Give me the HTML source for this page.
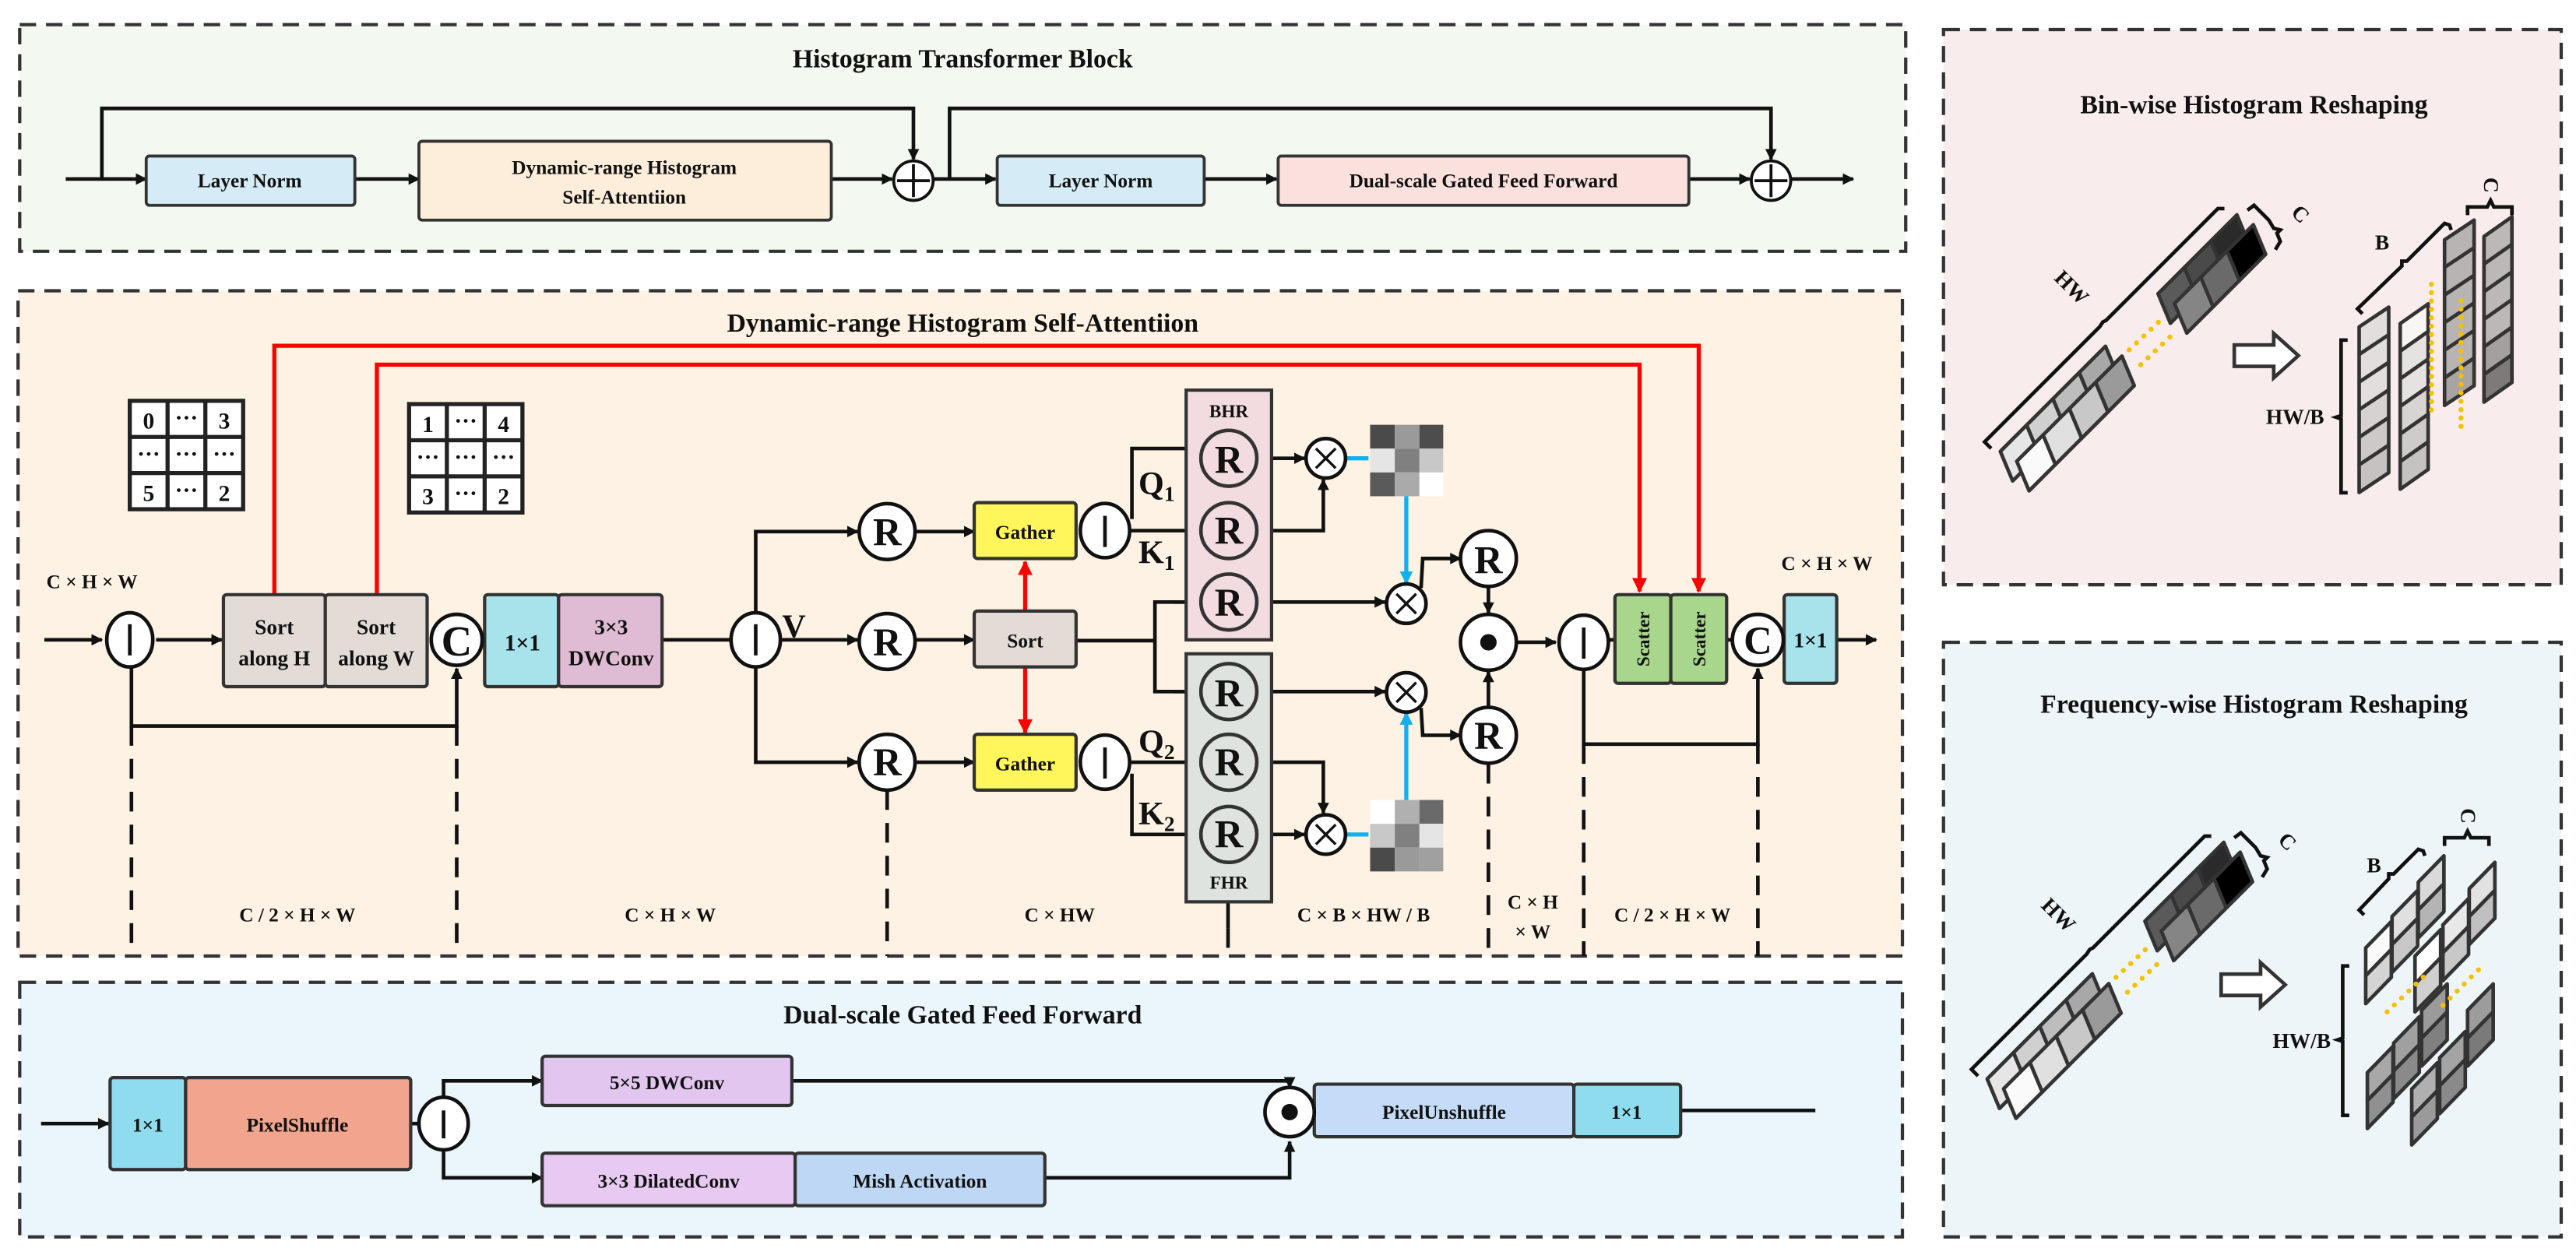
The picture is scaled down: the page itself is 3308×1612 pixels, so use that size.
<!DOCTYPE html>
<html><head><meta charset="utf-8"><style>
html,body{margin:0;padding:0;background:#fff;}
svg{display:block;}
text{font-family:"Liberation Serif",serif;font-weight:bold;fill:#111;}
</style></head><body>
<svg width="3308" height="1612" viewBox="0 0 1568 764" preserveAspectRatio="none" xmlns="http://www.w3.org/2000/svg">
<defs>
<marker id="a" viewBox="0 0 10 10" refX="9" refY="5" markerWidth="7" markerHeight="7" markerUnits="userSpaceOnUse" orient="auto"><path d="M0,0L10,5L0,10z" fill="#111"/></marker>
<marker id="r" viewBox="0 0 10 10" refX="9" refY="5" markerWidth="9" markerHeight="9" markerUnits="userSpaceOnUse" orient="auto"><path d="M0,0L10,5L0,10z" fill="#f00"/></marker>
<marker id="b" viewBox="0 0 10 10" refX="9" refY="5" markerWidth="8" markerHeight="8" markerUnits="userSpaceOnUse" orient="auto"><path d="M0,0L10,5L0,10z" fill="#14b0ee"/></marker>
</defs>

<g stroke="#333" stroke-width="2" stroke-dasharray="10 6">
<rect x="12" y="15" width="1148" height="138" fill="#f3f8f0"/>
<rect x="11" y="177" width="1147" height="405" fill="#fdf2e3"/>
<rect x="12" y="598" width="1146" height="155" fill="#eaf6fb"/>
<rect x="1183" y="18" width="376" height="338" fill="#f9ecec"/>
<rect x="1183" y="391" width="376" height="362" fill="#eef5f8"/>
</g>

<text x="586" y="41" font-size="16" text-anchor="middle">Histogram Transformer Block</text>
<g stroke="#111" stroke-width="2.2" fill="none">
<line x1="40" y1="109" x2="89" y2="109" marker-end="url(#a)"/>
<polyline points="62,109 62,66 556,66 556,97" marker-end="url(#a)"/>
<line x1="216" y1="109" x2="255" y2="109" marker-end="url(#a)"/>
<line x1="506" y1="109" x2="543" y2="109" marker-end="url(#a)"/>
<line x1="568" y1="109" x2="606" y2="109" marker-end="url(#a)"/>
<polyline points="578,109 578,66 1078,66 1078,97" marker-end="url(#a)"/>
<line x1="733" y1="109" x2="777" y2="109" marker-end="url(#a)"/>
<line x1="1028" y1="109" x2="1065" y2="109" marker-end="url(#a)"/>
<line x1="1090" y1="109" x2="1128" y2="109" marker-end="url(#a)"/>
</g>
<g stroke="#333" stroke-width="1.8">
<rect x="89" y="95" width="127" height="30" rx="2" fill="#d5ecf6"/>
<rect x="255" y="86" width="251" height="48" rx="2" fill="#fdeedb"/>
<rect x="607" y="95" width="126" height="30" rx="2" fill="#d5ecf6"/>
<rect x="778" y="95" width="250" height="30" rx="2" fill="#fbe1de"/>
</g>
<g font-size="12" text-anchor="middle">
<text x="152" y="114">Layer  Norm</text>
<text x="380" y="106">Dynamic-range  Histogram</text>
<text x="380" y="124">Self-Attentiion</text>
<text x="670" y="114">Layer  Norm</text>
<text x="903" y="114">Dual-scale Gated Feed Forward</text>
</g>
<g stroke="#111" stroke-width="1.8" fill="#fff">
<circle cx="556" cy="110" r="12"/><circle cx="1078" cy="110" r="12"/>
</g>
<g stroke="#111" stroke-width="1.8">
<line x1="546" y1="110" x2="566" y2="110"/><line x1="556" y1="100" x2="556" y2="120"/>
<line x1="1068" y1="110" x2="1088" y2="110"/><line x1="1078" y1="100" x2="1078" y2="120"/>
</g>

<text x="586" y="202" font-size="16" text-anchor="middle">Dynamic-range Histogram Self-Attentiion</text>

<g stroke="#f00" stroke-width="2.5" fill="none">
<polyline points="167,362 167,210.5 1034,210.5 1034,360" marker-end="url(#r)"/>
<polyline points="229.4,362 229.4,222 998,222 998,360" marker-end="url(#r)"/>
<line x1="624" y1="372" x2="624" y2="342" marker-end="url(#r)"/>
<line x1="624" y1="406" x2="624" y2="446" marker-end="url(#r)"/>
</g>

<g stroke="#222" stroke-width="2.5" fill="#fff">
<rect x="79" y="244" width="69" height="66"/>
<line x1="102" y1="244" x2="102" y2="310"/><line x1="125" y1="244" x2="125" y2="310"/>
<line x1="79" y1="266" x2="148" y2="266"/><line x1="79" y1="288" x2="148" y2="288"/>
<rect x="249" y="246" width="69" height="66"/>
<line x1="272" y1="246" x2="272" y2="312"/><line x1="295" y1="246" x2="295" y2="312"/>
<line x1="249" y1="268" x2="318" y2="268"/><line x1="249" y1="290" x2="318" y2="290"/>
</g>
<g font-size="14" text-anchor="middle" style="font-family:'Liberation Sans',sans-serif">
<text x="90.5" y="261">0</text><text x="113.5" y="259">···</text><text x="136.5" y="261">3</text>
<text x="90.5" y="281">···</text><text x="113.5" y="281">···</text><text x="136.5" y="281">···</text>
<text x="90.5" y="305">5</text><text x="113.5" y="303">···</text><text x="136.5" y="305">2</text>
<text x="260.5" y="263">1</text><text x="283.5" y="261">···</text><text x="306.5" y="263">4</text>
<text x="260.5" y="283">···</text><text x="283.5" y="283">···</text><text x="306.5" y="283">···</text>
<text x="260.5" y="307">3</text><text x="283.5" y="305">···</text><text x="306.5" y="307">2</text>
</g>

<g stroke="#111" stroke-width="2.2" fill="none">
<line x1="27" y1="389.5" x2="62" y2="389.5" marker-end="url(#a)"/>
<line x1="95" y1="389.5" x2="135" y2="389.5" marker-end="url(#a)"/>
<polyline points="80,405 80,442 278,442 278,407" marker-end="url(#a)"/>
<line x1="403" y1="389.5" x2="444" y2="389.5"/>
<polyline points="460,373 460,323.6 522,323.6" marker-end="url(#a)"/>
<line x1="476" y1="389.5" x2="522" y2="389.5" marker-end="url(#a)"/>
<polyline points="460,406 460,464 522,464" marker-end="url(#a)"/>
<line x1="557" y1="323.6" x2="593" y2="323.6" marker-end="url(#a)"/>
<line x1="557" y1="389.5" x2="593" y2="389.5" marker-end="url(#a)"/>
<line x1="557" y1="464" x2="593" y2="464" marker-end="url(#a)"/>
<polyline points="689,316 689,273 731,273" marker-end="url(#a)"/>
<line x1="688" y1="323" x2="731" y2="323" marker-end="url(#a)"/>
<line x1="688" y1="464" x2="731" y2="464" marker-end="url(#a)"/>
<polyline points="689,471 689,508 731,508" marker-end="url(#a)"/>
<line x1="655" y1="390" x2="703" y2="390"/>
<polyline points="731,366.5 703,366.5 703,421 731,421" />
<line x1="715" y1="366.5" x2="731" y2="366.5" marker-end="url(#a)"/>
<line x1="715" y1="421" x2="731" y2="421" marker-end="url(#a)"/>
<line x1="765" y1="279" x2="794" y2="279" marker-end="url(#a)"/>
<polyline points="765,323 805.5,323 805.5,292" marker-end="url(#a)"/>
<line x1="765" y1="366.5" x2="843" y2="366.5" marker-end="url(#a)"/>
<line x1="765" y1="421" x2="843" y2="421" marker-end="url(#a)"/>
<polyline points="765,464 805.5,464 805.5,495" marker-end="url(#a)"/>
<line x1="765" y1="508" x2="794" y2="508" marker-end="url(#a)"/>
<polyline points="865,358 866,340 889,340" marker-end="url(#a)"/>
<polyline points="865,431 866,447.6 889,447.6" marker-end="url(#a)"/>
<line x1="906" y1="357" x2="906" y2="373" marker-end="url(#a)"/>
<line x1="906" y1="430.6" x2="906" y2="409" marker-end="url(#a)"/>
<line x1="923" y1="391" x2="947" y2="391" marker-end="url(#a)"/>
<line x1="980" y1="389.5" x2="983" y2="389.5"/>
<line x1="1051" y1="389.5" x2="1054" y2="389.5"/>
<polyline points="964,407 964,453 1070,453 1070,407" marker-end="url(#a)"/>
<line x1="1118" y1="389.5" x2="1142" y2="389.5" marker-end="url(#a)"/>
<line x1="747.5" y1="549" x2="747.5" y2="565"/>
</g>
<g stroke="#111" stroke-width="2.2" stroke-dasharray="12 8" fill="none">
<line x1="80" y1="442" x2="80" y2="582"/>
<line x1="278" y1="442" x2="278" y2="582"/>
<line x1="540" y1="481" x2="540" y2="582"/>
<line x1="747.5" y1="565" x2="747.5" y2="582"/>
<line x1="906" y1="465" x2="906" y2="582"/>
<line x1="964" y1="453" x2="964" y2="582"/>
<line x1="1070" y1="453" x2="1070" y2="582"/>
</g>
<g stroke="#14b0ee" stroke-width="2.5" fill="none">
<line x1="820" y1="279" x2="833" y2="279"/>
<line x1="820" y1="508" x2="833" y2="508"/>
<line x1="856" y1="302" x2="856" y2="355" marker-end="url(#b)"/>
<line x1="856" y1="487" x2="856" y2="434" marker-end="url(#b)"/>
</g>

<g stroke="#333" stroke-width="2">
<rect x="136" y="362" width="62" height="56" rx="2" fill="#e3dcd6"/>
<rect x="198" y="362" width="62" height="56" rx="2" fill="#e3dcd6"/>
<rect x="295" y="362" width="45" height="56" rx="2" fill="#a8e2ea"/>
<rect x="340" y="362" width="63" height="56" rx="2" fill="#e0bcd4"/>
<rect x="593" y="306" width="62" height="34" rx="2" fill="#fef65a"/>
<rect x="593" y="372" width="62" height="34" rx="2" fill="#e3dcd6"/>
<rect x="593" y="447" width="62" height="34" rx="2" fill="#fef65a"/>
<rect x="722" y="237.5" width="52" height="152" fill="#f3dcdf"/>
<rect x="722" y="398" width="52" height="151" fill="#dfe3e0"/>
<rect x="983" y="362" width="34" height="54" rx="2" fill="#a8d68c"/>
<rect x="1017" y="362" width="34" height="54" rx="2" fill="#a8d68c"/>
<rect x="1086" y="362" width="32" height="54" rx="2" fill="#a8e2ea"/>
</g>
<g font-size="13" text-anchor="middle">
<text x="167" y="386">Sort</text><text x="167" y="405">along H</text>
<text x="229" y="386">Sort</text><text x="229" y="405">along W</text>
<text x="318" y="396" font-size="14">1×1</text>
<text x="372" y="386">3×3</text><text x="372" y="405">DWConv</text>
<text x="624" y="328" font-size="12">Gather</text>
<text x="624" y="394" font-size="12">Sort</text>
<text x="624" y="469" font-size="12">Gather</text>
<text x="748" y="254" font-size="11">BHR</text>
<text x="748" y="541" font-size="11">FHR</text>
<text x="1102" y="394" font-size="13">1×1</text>
<text font-size="11" transform="translate(1004,389) rotate(-90)">Scatter</text>
<text font-size="11" transform="translate(1038,389) rotate(-90)">Scatter</text>
</g>

<g stroke="#111" stroke-width="2.2" fill="#fff">
<ellipse cx="79" cy="389.5" rx="14" ry="16.5"/>
<ellipse cx="460" cy="389.5" rx="15" ry="16.5"/>
<ellipse cx="672.6" cy="323" rx="15" ry="16.5"/>
<ellipse cx="672.6" cy="464" rx="15" ry="16.5"/>
<ellipse cx="964" cy="391" rx="15" ry="16.5"/>
<circle cx="278" cy="389.5" r="15.5"/>
<circle cx="1070" cy="389.5" r="15.5"/>
<circle cx="540" cy="323.6" r="17"/><circle cx="540" cy="390.5" r="17"/><circle cx="540" cy="464" r="17"/>
<circle cx="906" cy="340" r="17"/><circle cx="906" cy="447.6" r="17"/><circle cx="906" cy="391" r="17"/>
<circle cx="807" cy="279" r="12"/><circle cx="856" cy="367.5" r="12"/><circle cx="856" cy="421.5" r="12"/><circle cx="807" cy="508" r="12"/>
</g>
<g stroke="#111" stroke-width="1.6">
<path d="M801,273 l12,12 M813,273 l-12,12"/>
<path d="M850,361.5 l12,12 M862,361.5 l-12,12"/>
<path d="M850,415.5 l12,12 M862,415.5 l-12,12"/>
<path d="M801,502 l12,12 M813,502 l-12,12"/>
</g>
<g stroke="#333" stroke-width="2.2" fill="#f3dcdf">
<circle cx="748" cy="279" r="17"/><circle cx="748" cy="323" r="17"/><circle cx="748" cy="366.5" r="17"/>
</g>
<g stroke="#333" stroke-width="2.2" fill="#dfe3e0">
<circle cx="748" cy="421" r="17"/><circle cx="748" cy="464" r="17"/><circle cx="748" cy="508" r="17"/>
</g>
<g stroke="#111" stroke-width="2.2">
<line x1="79" y1="380" x2="79" y2="399"/><line x1="460" y1="380" x2="460" y2="399"/>
<line x1="672.6" y1="314" x2="672.6" y2="333"/><line x1="672.6" y1="455" x2="672.6" y2="474"/>
<line x1="964" y1="382" x2="964" y2="401"/>
</g>
<circle cx="906" cy="391" r="5" fill="#111"/>
<g font-size="24" text-anchor="middle">
<text x="540" y="332">R</text><text x="540" y="399">R</text><text x="540" y="472">R</text>
<text x="748" y="288">R</text><text x="748" y="331">R</text><text x="748" y="375">R</text>
<text x="748" y="430">R</text><text x="748" y="472">R</text><text x="748" y="516">R</text>
<text x="906" y="349">R</text><text x="906" y="456">R</text>
<text x="278" y="399" font-size="26">C</text><text x="1070" y="398" font-size="24">C</text>
</g>
<g font-size="20">
<text x="476" y="388">V</text>
<text x="693" y="301">Q<tspan font-size="13" dy="4">1</tspan></text>
<text x="693" y="343">K<tspan font-size="13" dy="4">1</tspan></text>
<text x="693" y="458">Q<tspan font-size="13" dy="4">2</tspan></text>
<text x="693" y="502">K<tspan font-size="13" dy="4">2</tspan></text>
</g>

<g>
<rect x="834" y="258.6" width="15" height="14.5" fill="#4a4a4a"/><rect x="849" y="258.6" width="15" height="14.5" fill="#9a9a9a"/><rect x="864" y="258.6" width="14.5" height="14.5" fill="#4d4d4d"/>
<rect x="834" y="273.1" width="15" height="14.5" fill="#e5e5e5"/><rect x="849" y="273.1" width="15" height="14.5" fill="#808080"/><rect x="864" y="273.1" width="14.5" height="14.5" fill="#c8c8c8"/>
<rect x="834" y="287.6" width="15" height="14.5" fill="#5a5a5a"/><rect x="849" y="287.6" width="15" height="14.5" fill="#aaaaaa"/><rect x="864" y="287.6" width="14.5" height="14.5" fill="#ffffff"/>
<rect x="834" y="487" width="15" height="14.5" fill="#ffffff"/><rect x="849" y="487" width="15" height="14.5" fill="#b0b0b0"/><rect x="864" y="487" width="14.5" height="14.5" fill="#6a6a6a"/>
<rect x="834" y="501.5" width="15" height="14.5" fill="#c8c8c8"/><rect x="849" y="501.5" width="15" height="14.5" fill="#808080"/><rect x="864" y="501.5" width="14.5" height="14.5" fill="#e5e5e5"/>
<rect x="834" y="516" width="15" height="14.5" fill="#4a4a4a"/><rect x="849" y="516" width="15" height="14.5" fill="#9a9a9a"/><rect x="864" y="516" width="14.5" height="14.5" fill="#a0a0a0"/>
</g>

<g font-size="12" text-anchor="middle">
<text x="56" y="358">C × H × W</text>
<text x="1112" y="347">C × H × W</text>
<text x="181" y="561">C / 2 × H × W</text>
<text x="408" y="561">C × H × W</text>
<text x="645" y="561">C × HW</text>
<text x="830" y="561">C × B × HW / B</text>
<text x="933" y="553">C × H</text>
<text x="933" y="571">× W</text>
<text x="1018" y="561">C / 2 × H × W</text>
</g>

<text x="586" y="623" font-size="16" text-anchor="middle">Dual-scale Gated Feed Forward</text>
<g stroke="#111" stroke-width="2.2" fill="none">
<line x1="25" y1="684" x2="66" y2="684" marker-end="url(#a)"/>
<line x1="250" y1="684" x2="255" y2="684"/>
<polyline points="270,669 270,658 330,658" marker-end="url(#a)"/>
<polyline points="270,699 270,717 330,717" marker-end="url(#a)"/>
<polyline points="482,658 785,658 785,662" marker-end="url(#a)"/>
<polyline points="636,717 785,717 785,695" marker-end="url(#a)"/>
<line x1="1023" y1="676" x2="1105" y2="676"/>
</g>
<g stroke="#333" stroke-width="2">
<rect x="67" y="656" width="46" height="56" rx="2" fill="#8fdcee"/>
<rect x="113" y="656" width="137" height="56" rx="2" fill="#f2a58e"/>
<rect x="330" y="643" width="152" height="30" rx="2" fill="#e3c6ef"/>
<rect x="330" y="702" width="154" height="32" rx="2" fill="#e8c9f2"/>
<rect x="484" y="702" width="152" height="32" rx="2" fill="#bdd7f5"/>
<rect x="800" y="660" width="158" height="32" rx="2" fill="#c4dcf7"/>
<rect x="958" y="660" width="65" height="32" rx="2" fill="#8fdcee"/>
</g>
<g stroke="#111" stroke-width="2.2" fill="#fff">
<ellipse cx="270" cy="684" rx="15" ry="16"/>
<circle cx="785" cy="677" r="15"/>
</g>
<line x1="270" y1="676" x2="270" y2="693" stroke="#111" stroke-width="2.2"/>
<circle cx="785" cy="677" r="5" fill="#111"/>
<g font-size="12" text-anchor="middle">
<text x="90" y="689">1×1</text>
<text x="181" y="689">PixelShuffle</text>
<text x="406" y="663">5×5  DWConv</text>
<text x="407" y="723">3×3  DilatedConv</text>
<text x="560" y="723">Mish Activation</text>
<text x="879" y="681">PixelUnshuffle</text>
<text x="990" y="681">1×1</text>
</g>

<text x="1372" y="69" font-size="16" text-anchor="middle">Bin-wise Histogram Reshaping</text>
<text x="1372" y="434" font-size="16" text-anchor="middle">Frequency-wise Histogram Reshaping</text>

<g id="strip">
<g stroke="#333" stroke-width="2.2" stroke-linejoin="round">
<g transform="translate(-10,-6)">
<path d="M1355.6,152.8 l16,-16 l7.5,18 l-16,16z" fill="#2a2a2a"/>
<path d="M1339.6,168.8 l16,-16 l7.5,18 l-16,16z" fill="#4a4a4a"/>
<path d="M1323.6,184.8 l16,-16 l7.5,18 l-16,16z" fill="#5a5a5a"/>
<path d="M1275.6,232.8 l16,-16 l7.5,18 l-16,16z" fill="#a8a8a8"/>
<path d="M1259.6,248.8 l16,-16 l7.5,18 l-16,16z" fill="#bdbdbd"/>
<path d="M1243.6,264.8 l16,-16 l7.5,18 l-16,16z" fill="#d0d0d0"/>
<path d="M1227.6,280.8 l16,-16 l7.5,18 l-16,16z" fill="#e6e6e6"/>
</g>
<path d="M1355.6,152.8 l16,-16 l7.5,18 l-16,16z" fill="#000"/>
<path d="M1339.6,168.8 l16,-16 l7.5,18 l-16,16z" fill="#6a6a6a"/>
<path d="M1323.6,184.8 l16,-16 l7.5,18 l-16,16z" fill="#858585"/>
<path d="M1275.6,232.8 l16,-16 l7.5,18 l-16,16z" fill="#9a9a9a"/>
<path d="M1259.6,248.8 l16,-16 l7.5,18 l-16,16z" fill="#c8c8c8"/>
<path d="M1243.6,264.8 l16,-16 l7.5,18 l-16,16z" fill="#e0e0e0"/>
<path d="M1227.6,280.8 l16,-16 l7.5,18 l-16,16z" fill="#fafafa"/>
</g>
<g stroke="#f5c000" stroke-width="3" stroke-linecap="round" stroke-dasharray="0.1 6" fill="none">
<line x1="1296" y1="213" x2="1314" y2="196"/>
<line x1="1303" y1="222" x2="1321" y2="205"/>
</g>
<g stroke="#111" stroke-width="2.2" fill="none">
<path d="M1212,273 l-4,-4 L1278,199 l2,-3 l2,-1 L1350,127 l4,0"/>
<path d="M1368,128 l4,-3 l9,9 l3,5 l4,1 l-2,2 l2,5 l-3,5"/>
</g>
<text font-size="13" transform="translate(1258,178) rotate(45)" text-anchor="middle">HW</text>
<text font-size="13" transform="translate(1394,130) rotate(45)">C</text>
</g>
<use href="#strip" transform="translate(-8,382)"/>

<path d="M1360,210 h24 v-7 l15,13.5 l-15,13.5 v-7 h-24z" fill="#fff" stroke="#333" stroke-width="2.2"/>
<path d="M1352,593 h24 v-7 l15,13.5 l-15,13.5 v-7 h-24z" fill="#fff" stroke="#333" stroke-width="2.2"/>

<g stroke="#333" stroke-width="2.2" stroke-linejoin="round">
<g fill="#e2dede">
<path d="M1436,199 l18,-12 v16.8 l-18,12z"/><path d="M1436,215.8 l18,-12 v16.8 l-18,12z"/><path d="M1436,232.6 l18,-12 v16.8 l-18,12z"/>
<path d="M1436,249.4 l18,-12 v16.8 l-18,12z" fill="#d6d2d2"/><path d="M1436,266.2 l18,-12 v16.8 l-18,12z" fill="#cdc9c9"/><path d="M1436,283 l18,-12 v16.8 l-18,12z" fill="#c6c2c2"/>
</g>
<g fill="#e6e2e2">
<path d="M1461,197 l17,-12 v16.8 l-17,12z" fill="#f8f5f5"/><path d="M1461,213.8 l17,-12 v16.8 l-17,12z"/><path d="M1461,230.6 l17,-12 v16.8 l-17,12z"/>
<path d="M1461,247.4 l17,-12 v16.8 l-17,12z" fill="#d8d4d4"/><path d="M1461,264.2 l17,-12 v16.8 l-17,12z" fill="#cfcbcb"/><path d="M1461,281 l17,-12 v16.8 l-17,12z" fill="#c6c2c2"/>
</g>
<g fill="#b8b4b4">
<path d="M1488,146 l18,-12 v16.8 l-18,12z"/><path d="M1488,162.8 l18,-12 v16.8 l-18,12z"/><path d="M1488,179.6 l18,-12 v16.8 l-18,12z"/>
<path d="M1488,196.4 l18,-12 v16.8 l-18,12z"/><path d="M1488,213.2 l18,-12 v16.8 l-18,12z"/><path d="M1488,230 l18,-12 v16.8 l-18,12z" fill="#a8a4a4"/>
</g>
<g fill="#bcb8b8">
<path d="M1512,144 l17,-12 v16.8 l-17,12z"/><path d="M1512,160.8 l17,-12 v16.8 l-17,12z"/><path d="M1512,177.6 l17,-12 v16.8 l-17,12z"/>
<path d="M1512,194.4 l17,-12 v16.8 l-17,12z"/><path d="M1512,211.2 l17,-12 v16.8 l-17,12z" fill="#a4a0a0"/><path d="M1512,228 l17,-12 v16.8 l-17,12z" fill="#7e7a7a"/>
</g>
</g>
<g stroke="#f5c000" stroke-width="3" stroke-linecap="round" stroke-dasharray="0.1 5" fill="none">
<line x1="1480" y1="173" x2="1480" y2="250"/>
<line x1="1498" y1="183" x2="1498" y2="261"/>
</g>
<g stroke="#111" stroke-width="2.2" fill="none">
<path d="M1429,207 h-4 v46 l-3,1 l3,1 v45 h4"/>
<path d="M1438,191 l-3,-3 L1462,162 l0,-3 l3,0 L1488,136 l3,1 l1,3"/>
<path d="M1502,131 v-5 h12 l2,-4 l2,4 h11 v5"/>
</g>
<text x="1397" y="258" font-size="13" text-anchor="middle">HW/B</text>
<text x="1450" y="152" font-size="13" text-anchor="middle">B</text>
<text font-size="13" transform="translate(1512,108) rotate(90)">C</text>

<g stroke="#333" stroke-width="2.2" stroke-linejoin="round">
<path d="M1440,577 l15.6,-16 v17 l-15.6,16z" fill="#fafafa"/><path d="M1440,594 l15.6,-16 v17 l-15.6,16z" fill="#d4d4d4"/>
<path d="M1456,558 l15.6,-16 v17 l-15.6,16z" fill="#e0e0e0"/><path d="M1456,575 l15.6,-16 v17 l-15.6,16z" fill="#c8c8c8"/>
<path d="M1472,537 l15.6,-16 v17 l-15.6,16z" fill="#dadada"/><path d="M1472,554 l15.6,-16 v17 l-15.6,16z" fill="#b4b4b4"/>
<path d="M1470,582 l15.6,-16 v17 l-15.6,16z" fill="#ffffff"/><path d="M1470,599 l15.6,-16 v17 l-15.6,16z" fill="#d0d0d0"/>
<path d="M1487,563 l15.6,-16 v17 l-15.6,16z" fill="#e8e8e8"/><path d="M1487,580 l15.6,-16 v17 l-15.6,16z" fill="#c8c8c8"/>
<path d="M1503,541 l15.6,-16 v17 l-15.6,16z" fill="#e2e2e2"/><path d="M1503,558 l15.6,-16 v17 l-15.6,16z" fill="#c0c0c0"/>
<path d="M1441,653 l15.6,-16 v17 l-15.6,16z" fill="#a8a8a8"/><path d="M1441,670 l15.6,-16 v17 l-15.6,16z" fill="#909090"/>
<path d="M1457,635 l15.6,-16 v17 l-15.6,16z" fill="#a0a0a0"/><path d="M1457,652 l15.6,-16 v17 l-15.6,16z" fill="#8a8a8a"/>
<path d="M1474,615 l15.6,-16 v17 l-15.6,16z" fill="#9a9a9a"/><path d="M1474,632 l15.6,-16 v17 l-15.6,16z" fill="#808080"/>
<path d="M1468,663 l15.6,-16 v17 l-15.6,16z" fill="#b0b0b0"/><path d="M1468,680 l15.6,-16 v17 l-15.6,16z" fill="#9a9a9a"/>
<path d="M1485,644 l15.6,-16 v17 l-15.6,16z" fill="#a4a4a4"/><path d="M1485,661 l15.6,-16 v17 l-15.6,16z" fill="#8a8a8a"/>
<path d="M1502,615 l15.6,-16 v17 l-15.6,16z" fill="#9c9c9c"/><path d="M1502,632 l15.6,-16 v17 l-15.6,16z" fill="#7a7a7a"/>
</g>
<g stroke="#f5c000" stroke-width="3" stroke-linecap="round" stroke-dasharray="0.1 6" fill="none">
<line x1="1453" y1="616" x2="1479" y2="591"/>
<line x1="1487" y1="612" x2="1512" y2="587"/>
</g>
<g stroke="#111" stroke-width="2.2" fill="none">
<path d="M1430,588 h-4 v44 l-3,1 l3,1 v45 h4"/>
<path d="M1439,557 l-3,-3 L1454,535 l0,-3 l3,0 L1472,517 l3,1 l1,3"/>
<path d="M1488,515 v-5 h12 l2,-4 l2,4 h11 v5"/>
</g>
<text x="1401" y="638" font-size="13" text-anchor="middle">HW/B</text>
<text x="1445" y="531" font-size="13" text-anchor="middle">B</text>
<text font-size="13" transform="translate(1498,492) rotate(90)">C</text>
</svg>
</body></html>
